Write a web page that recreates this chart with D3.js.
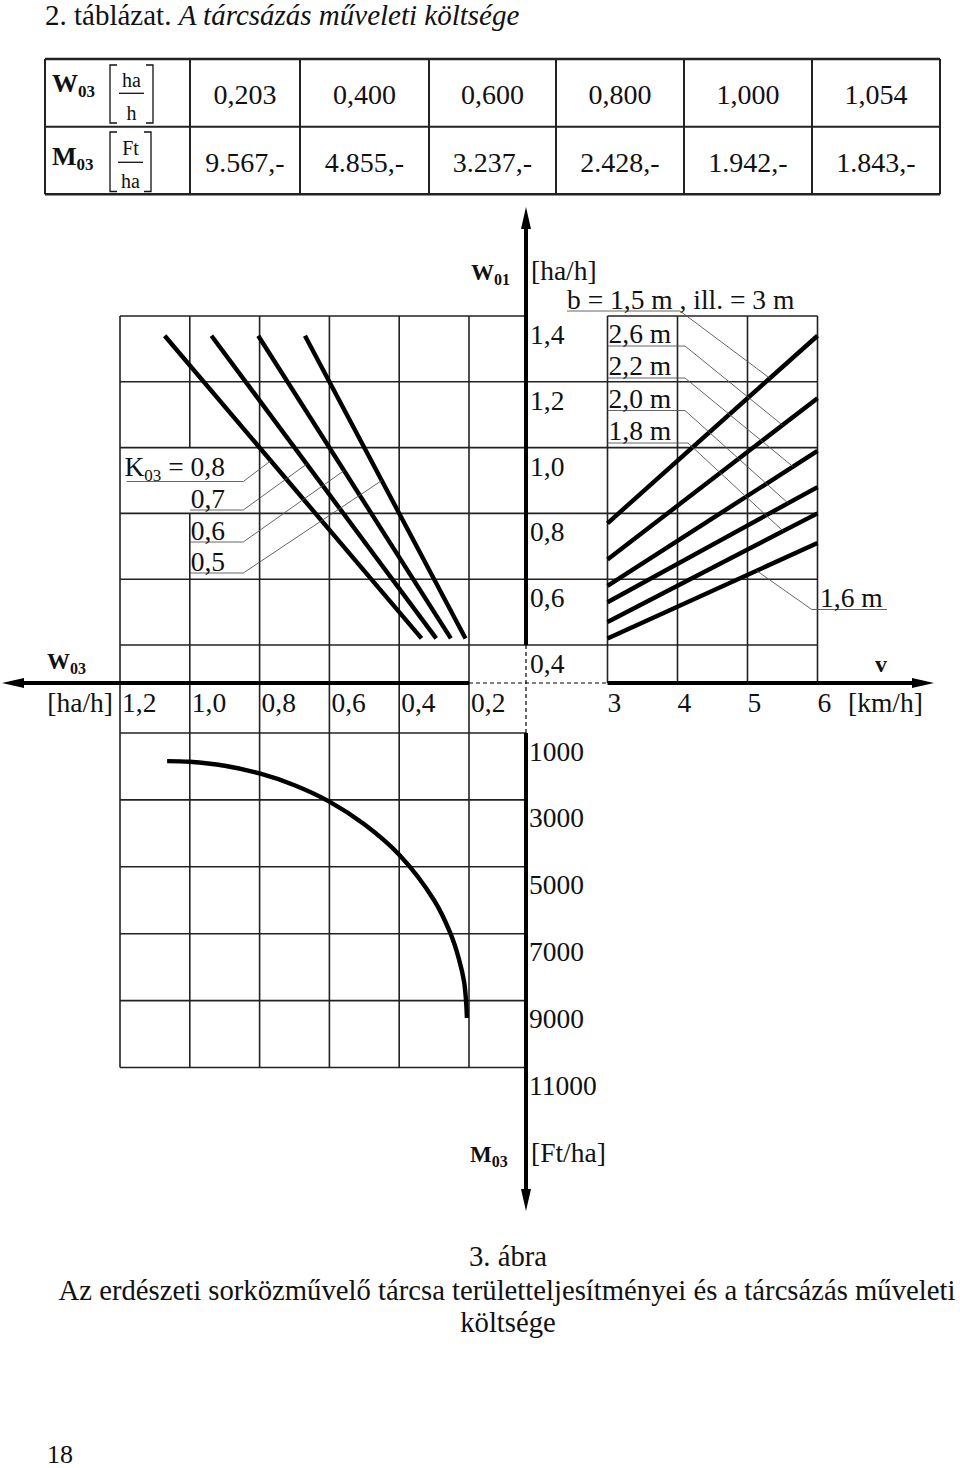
<!DOCTYPE html>
<html><head><meta charset="utf-8">
<script src="https://cdn.jsdelivr.net/npm/d3@7"></script>
<style>
html,body{margin:0;padding:0;background:#fff;}
svg{display:block;font-family:"Liberation Serif","Times New Roman",serif;}
</style></head><body>
<svg id="c" width="960" height="1468"></svg>
<script>
// ---------------- DATA ----------------
const tableW03 = [0.203, 0.400, 0.600, 0.800, 1.000, 1.054];
const tableM03 = [9567, 4855, 3237, 2428, 1942, 1843];

const w01Ticks = [1.4, 1.2, 1.0, 0.8, 0.6, 0.4];
const w03Ticks = [1.2, 1.0, 0.8, 0.6, 0.4, 0.2];
const vTicks   = [3, 4, 5, 6];
const m03Ticks = [1000, 3000, 5000, 7000, 9000, 11000];

// K03 lines (W03 = K03 * W01), drawn over this W01 span
const k03Values   = [0.8, 0.7, 0.6, 0.5];
const k03Labels   = ["0,8", "0,7", "0,6", "0,5"];
const k03W01Span  = [1.34, 0.42];
const k03LeaderW01 = [0.96, 0.95, 0.93, 0.90];

// working width lines: W01 at v = 3 and v = 6 km/h
const bLabels    = ["b = 1,5 m", "2,6 m", "2,2 m", "2,0 m", "1,8 m", "1,6 m"];
const bW01AtV3   = [0.77, 0.66, 0.58, 0.53, 0.47, 0.42];
const bW01AtV6   = [1.34, 1.15, 0.99, 0.88, 0.80, 0.71];
const bLeaderV   = [5.32, 5.50, 5.65, 5.58, 5.51, 5.13];

// M03 curve, points
const curveW03 = [1.065, 1.0, 0.9, 0.8, 0.7, 0.6, 0.5, 0.4, 0.3, 0.254, 0.229, 0.214, 0.208, 0.206];
const curveM03 = [1840, 1860, 1980, 2210, 2560, 3050, 3730, 4640, 6000, 6970, 7750, 8440, 9080, 9520];

// ---------------- LAYOUT ----------------
const svg = d3.select("#c");
const FS = 27.5;
const ink = "#111";
const gridC = "#222";

const xW03 = d3.scaleLinear().domain([1.2, 0.2]).range([120, 469]);
const yW01 = d3.scaleLinear().domain([0.4, 1.4]).range([645, 316]);
const xV   = d3.scaleLinear().domain([3, 6]).range([607.5, 817.5]);
const yM03 = d3.scaleLinear().domain([1000, 11000]).range([733, 1067.5]);
const AX = 526, AY = 683;

const comma = s => s.replace(".", ",");
const fmtW = v => comma(d3.format(".3f")(v));
const fmtM = v => d3.format(",")(v).replace(",", ".") + ",-";
const fmtTick = v => comma(d3.format(".1f")(v));

// ---------------- TITLE ----------------
const title = svg.append("text").attr("x", 45).attr("y", 25).attr("font-size", 29).attr("fill", ink);
title.append("tspan").text("2. táblázat. ");
title.append("tspan").attr("font-style", "italic").text("A tárcsázás műveleti költsége");

// ---------------- TABLE ----------------
const colEdges = [190, 300, 429, 556, 684, 812, 940];
const tTop = 59, tMid = 126.7, tBot = 194.3, tLeft = 45, tRight = 940;
const tg = svg.append("g").attr("stroke", gridC).attr("stroke-width", 2).attr("fill", "none");
[tTop, tMid, tBot].forEach(y => tg.append("line").attr("x1", tLeft).attr("x2", tRight).attr("y1", y).attr("y2", y)
  .attr("stroke-width", y === tMid ? 2 : 2.5));
[tLeft].concat(colEdges).forEach(x => tg.append("line").attr("x1", x).attr("x2", x).attr("y1", tTop).attr("y2", tBot));

const vals = svg.append("g").attr("font-size", 28).attr("text-anchor", "middle").attr("fill", ink);
tableW03.forEach((v, i) => vals.append("text").attr("x", (colEdges[i] + colEdges[i + 1]) / 2).attr("y", 104).text(fmtW(v)));
tableM03.forEach((v, i) => vals.append("text").attr("x", (colEdges[i] + colEdges[i + 1]) / 2).attr("y", 171.5).text(fmtM(v)));

function subLabel(x, y, main, sub, size, subSize, anchor) {
  const t = svg.append("text").attr("x", x).attr("y", y).attr("font-weight", "bold")
    .attr("font-size", size).attr("fill", ink).attr("text-anchor", anchor || "start");
  t.append("tspan").text(main);
  t.append("tspan").attr("font-size", subSize).attr("dy", 5).text(sub);
  return t;
}
subLabel(52, 92, "W", "03", 26, 17);
subLabel(52, 165, "M", "03", 26, 17);

function bracketFrac(xl, xr, y0, y1, top, bot, topY, botY, lineY) {
  const g = svg.append("g");
  const p = `M${xl + 7},${y0}H${xl}V${y1}H${xl + 7} M${xr - 7},${y0}H${xr}V${y1}H${xr - 7}`;
  g.append("path").attr("d", p).attr("fill", "none").attr("stroke", ink).attr("stroke-width", 1.3);
  const cx = (xl + xr) / 2;
  g.append("line").attr("x1", cx - 12.5).attr("x2", cx + 12.5).attr("y1", lineY).attr("y2", lineY)
    .attr("stroke", ink).attr("stroke-width", 1.3);
  g.append("text").attr("x", cx).attr("y", topY).attr("text-anchor", "middle").attr("font-size", 20).attr("fill", ink).text(top);
  g.append("text").attr("x", cx).attr("y", botY).attr("text-anchor", "middle").attr("font-size", 20).attr("fill", ink).text(bot);
}
bracketFrac(110, 153, 65, 123, "ha", "h", 86.5, 120, 93.3);
bracketFrac(110, 151, 132, 191.5, "Ft", "ha", 154.5, 187.5, 162.3);

// ---------------- GRID ----------------
const grid = svg.append("g").attr("stroke", gridC).attr("stroke-width", 1.6).attr("fill", "none");
const seg = (x1, y1, x2, y2) => grid.append("line").attr("x1", x1).attr("y1", y1).attr("x2", x2).attr("y2", y2);

w01Ticks.forEach(t => {
  seg(xW03(1.2), yW01(t), AX, yW01(t));
  seg(t === 1.4 ? xV(3) : AX, yW01(t), xV(6), yW01(t));
});
m03Ticks.forEach(t => seg(xW03(1.2), yM03(t), AX, yM03(t)));
w03Ticks.forEach(t => {
  const x = xW03(t);
  if (t === 1.0) {
    seg(x, yW01(1.4), x, yW01(1.0));
    seg(x, yW01(0.8), x, yM03(11000));
  } else {
    seg(x, yW01(1.4), x, yM03(11000));
  }
});
vTicks.forEach(t => seg(xV(t), yW01(1.4), xV(t), AY));

// ---------------- AXES ----------------
const axes = svg.append("g");
const thick = (x1, y1, x2, y2) => axes.append("line").attr("x1", x1).attr("y1", y1).attr("x2", x2).attr("y2", y2)
  .attr("stroke", "#000").attr("stroke-width", 4);
const dashed = (x1, y1, x2, y2) => axes.append("line").attr("x1", x1).attr("y1", y1).attr("x2", x2).attr("y2", y2)
  .attr("stroke", "#000").attr("stroke-width", 1.2).attr("stroke-dasharray", "4,3");
const arrow = (pts) => axes.append("path").attr("d", "M" + pts.map(p => p.join(",")).join("L") + "Z").attr("fill", "#000");

thick(AX, 226, AX, yW01(0.4));
dashed(AX, yW01(0.4), AX, yM03(1000));
thick(AX, yM03(1000), AX, 1192);
arrow([[AX, 207], [AX - 5, 229], [AX + 5, 229]]);
arrow([[AX, 1211], [AX - 5, 1189], [AX + 5, 1189]]);

thick(21, AY, xW03(0.2), AY);
dashed(xW03(0.2), AY, xV(3), AY);
thick(xV(3), AY, 915, AY);
arrow([[2, AY], [24, AY - 5], [24, AY + 5]]);
arrow([[934, AY], [912, AY - 5], [912, AY + 5]]);

// ---------------- TICK LABELS ----------------
const lab = svg.append("g").attr("font-size", FS).attr("fill", ink);
w01Ticks.forEach(t => lab.append("text").attr("x", AX + 4).attr("y", yW01(t) + 28).text(fmtTick(t)));
w03Ticks.forEach(t => lab.append("text").attr("x", xW03(t) + 2).attr("y", 712).text(fmtTick(t)));
lab.append("text").attr("x", 113).attr("y", 712).attr("text-anchor", "end").text("[ha/h]");
vTicks.forEach(t => lab.append("text").attr("x", xV(t)).attr("y", 712).text(t));
lab.append("text").attr("x", 848).attr("y", 712).text("[km/h]");
m03Ticks.forEach(t => lab.append("text").attr("x", AX + 3).attr("y", yM03(t) + 27.5).text(t));
lab.append("text").attr("x", 531).attr("y", 280).text("[ha/h]");
lab.append("text").attr("x", 531).attr("y", 1162).text("[Ft/ha]");

subLabel(47, 669, "W", "03", 23, 16);
subLabel(471, 280, "W", "01", 23, 16);
subLabel(470, 1162, "M", "03", 23, 16);
svg.append("text").attr("x", 875).attr("y", 672).attr("font-weight", "bold").attr("font-size", 24).attr("fill", ink).text("v");

// ---------------- DATA LINES ----------------
const lineG = svg.append("g").attr("stroke", "#000").attr("stroke-width", 4.4).attr("fill", "none");
k03Values.forEach(k => {
  lineG.append("line")
    .attr("x1", xW03(k * k03W01Span[0])).attr("y1", yW01(k03W01Span[0]))
    .attr("x2", xW03(k * k03W01Span[1])).attr("y2", yW01(k03W01Span[1]));
});
bLabels.forEach((b, i) => {
  lineG.append("line")
    .attr("x1", xV(3)).attr("y1", yW01(bW01AtV3[i]))
    .attr("x2", xV(6)).attr("y2", yW01(bW01AtV6[i]));
});
const curvePts = curveW03.map((w, i) => [xW03(w), yM03(curveM03[i])]);
svg.append("path").attr("d", d3.line().curve(d3.curveCatmullRom.alpha(0.5))(curvePts))
  .attr("fill", "none").attr("stroke", "#000").attr("stroke-width", 4.4);

// ---------------- ANNOTATIONS ----------------
const lead = svg.append("g").attr("stroke", "#555").attr("stroke-width", 0.9).attr("fill", "none");
const ann = svg.append("g").attr("font-size", FS).attr("fill", ink);

const kBase = [476, 508, 540, 571];
k03Values.forEach((k, i) => {
  const t = ann.append("text").attr("x", 225).attr("y", kBase[i]).attr("text-anchor", "end");
  if (i === 0) {
    t.append("tspan").text("K");
    t.append("tspan").attr("font-size", 17).attr("dy", 5).text("03");
    t.append("tspan").attr("dy", -5).text(" = " + k03Labels[i]);
  } else {
    t.text(k03Labels[i]);
  }
  const uy = kBase[i] + (i === 0 ? 5.5 : 2);
  const ux0 = i === 0 ? 126.7 : 190;
  const w = k03LeaderW01[i];
  lead.append("path").attr("d", `M${ux0},${uy}H243.3L${xW03(k * w)},${yW01(w)}`);
});

const bBase = [309, 343, 375, 407.5, 440];
bLabels.forEach((b, i) => {
  const v = bLeaderV[i];
  const ty = yW01(bW01AtV3[i]) + (yW01(bW01AtV6[i]) - yW01(bW01AtV3[i])) * (v - 3) / 3;
  const tx = xV(v);
  if (i === 0) {
    ann.append("text").attr("x", 567).attr("y", bBase[0]).text(b + " , ill. = 3 m");
    lead.append("path").attr("d", `M567,311H680L${tx},${ty}`);
  } else if (i < 5) {
    ann.append("text").attr("x", xV(3) + 1).attr("y", bBase[i]).text(b);
    const ux1 = i === 4 ? 688 : 685;
    lead.append("path").attr("d", `M${xV(3)},${bBase[i] + 3}H${ux1}L${tx},${ty}`);
  } else {
    ann.append("text").attr("x", 820).attr("y", 606.5).text(b);
    lead.append("path").attr("d", `M887,609.5H811.7L${tx},${ty}`);
  }
});

// ---------------- CAPTION ----------------
const cap = svg.append("g").attr("font-size", 28.7).attr("fill", ink).attr("text-anchor", "middle");
cap.append("text").attr("x", 508).attr("y", 1266).text("3. ábra");
cap.append("text").attr("x", 507).attr("y", 1300).text("Az erdészeti sorközművelő tárcsa területteljesítményei és a tárcsázás műveleti");
cap.append("text").attr("x", 508).attr("y", 1332).text("költsége");
svg.append("text").attr("x", 47).attr("y", 1463).attr("font-size", 26).attr("fill", ink).text("18");
</script>
</body></html>
